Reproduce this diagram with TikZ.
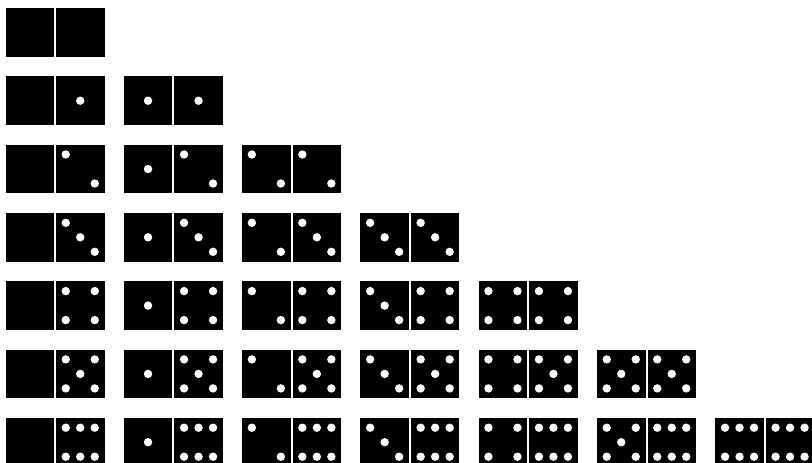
\documentclass[tikz,border=0pt]{standalone}
\tikzset{half/.style={fill=black}, pip/.style={fill=white}}
\def\dd{14.5}
\def\pr{4.2pt}
\newcommand\drawpips[3]{%
  \begin{scope}[shift={(#2,#3)}]
  \ifcase#1\relax
  \or \fill[pip] (0,0) circle (\pr);
  \or \fill[pip] (-\dd,-\dd) circle (\pr) (\dd,\dd) circle (\pr);
  \or \fill[pip] (-\dd,-\dd) circle (\pr) (0,0) circle (\pr) (\dd,\dd) circle (\pr);
  \or \fill[pip] (-\dd,-\dd) circle (\pr) (\dd,-\dd) circle (\pr) (-\dd,\dd) circle (\pr) (\dd,\dd) circle (\pr);
  \or \fill[pip] (-\dd,-\dd) circle (\pr) (\dd,-\dd) circle (\pr) (-\dd,\dd) circle (\pr) (\dd,\dd) circle (\pr) (0,0) circle (\pr);
  \or \fill[pip] (-\dd,-\dd) circle (\pr) (0,-\dd) circle (\pr) (\dd,-\dd) circle (\pr) (-\dd,\dd) circle (\pr) (0,\dd) circle (\pr) (\dd,\dd) circle (\pr);
  \fi
  \end{scope}}
\begin{document}
\begin{tikzpicture}[x=1pt,y=-1pt]
\useasboundingbox (0,0) rectangle (812,463);
\clip (0,0) rectangle (812,463);
\foreach \r in {0,...,6} {
  \foreach \c in {0,...,\r} {
    \pgfmathsetmacro\x{5.5+118.3*\c}
    \pgfmathsetmacro\y{8+68.3*\r}
    \fill[half] (\x,\y) rectangle ++(48.5,48.8);
    \fill[half] (\x+50.5,\y) rectangle ++(48.5,48.8);
    \pgfmathsetmacro\xa{\x+24.25}
    \pgfmathsetmacro\xb{\x+50.5+24.25}
    \pgfmathsetmacro\ym{\y+24.4}
    \drawpips{\c}{\xa}{\ym}
    \drawpips{\r}{\xb}{\ym}
  }
}
\end{tikzpicture}
\end{document}
